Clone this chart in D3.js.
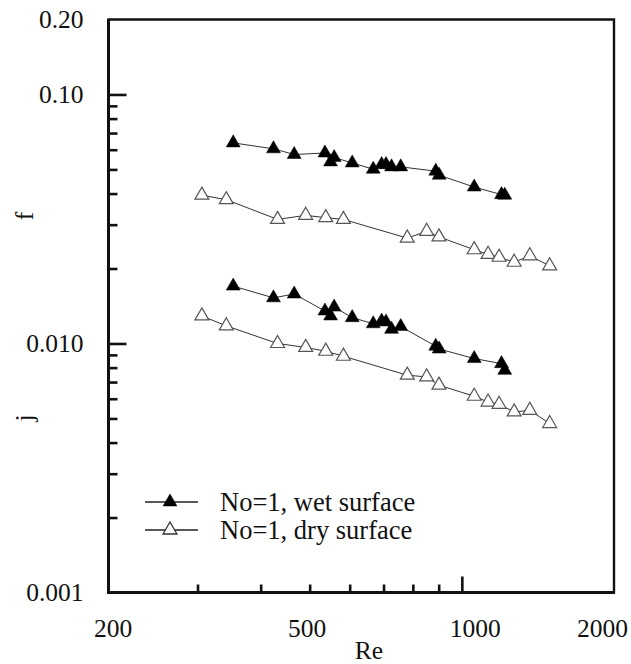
<!DOCTYPE html>
<html>
<head>
<meta charset="utf-8">
<script src="https://cdn.jsdelivr.net/npm/d3@7"></script>
<style>
	html, body { margin: 0; padding: 0; background: #fff; }
	#canvas { width: 631px; height: 664px; }
	svg text { font-family: "Liberation Serif", "DejaVu Serif", serif; }
</style>
</head>
<body>
<div id="canvas"></div>
<script>
// Re values of each run
const wetRe = [353, 424, 466, 536, 550, 559, 607, 668, 694, 708, 726, 757, 888, 902, 1058, 1198, 1216];
const wetF = [0.0639, 0.0605, 0.0574, 0.0582, 0.0536, 0.0558, 0.0531, 0.0501, 0.0523, 0.0523, 0.0512, 0.0512, 0.0492, 0.0474, 0.0425, 0.0396, 0.0394];
const wetJ = [0.0170, 0.01525, 0.0158, 0.0135, 0.0129, 0.0140, 0.0127, 0.0120, 0.0123, 0.0122, 0.0114, 0.0117, 0.00975, 0.0095, 0.0087, 0.0083, 0.0078];

const dryRe = [306, 342, 432, 491, 538, 583, 780, 852, 901, 1058, 1127, 1185, 1269, 1363, 1492];
const dryF = [0.0394, 0.0378, 0.0315, 0.0327, 0.0320, 0.0315, 0.0265, 0.0282, 0.0268, 0.0238, 0.0228, 0.0222, 0.0212, 0.0225, 0.0205];
const dryJ = [0.0129, 0.01177, 0.0100, 0.00964, 0.00931, 0.00889, 0.00746, 0.00734, 0.0068, 0.00614, 0.00582, 0.0057, 0.00531, 0.00539, 0.00477];

const xLabels = [200, 500, 1000, 2000];
const yLabels = [0.001, 0.01, 0.1, 0.2];
const yLabelText = ['0.001', '0.010', '0.10', '0.20'];
const legendNames = ['No=1, wet surface', 'No=1, dry surface'];

const width = 631;
const height = 664;
const margins = { top: 19.5, bottom: 71.5, left: 108.5, right: 17 };

const xScale = d3.scaleLog()
	.domain([200, 2000])
	.range([margins.left, width - margins.right]);

const yScale = d3.scaleLog()
	.domain([0.001, 0.2])
	.range([height - margins.bottom, margins.top]);

const svg = d3.select('#canvas').append('svg')
	.attr('width', width)
	.attr('height', height);

const x0 = margins.left, x1 = width - margins.right;
const y0 = height - margins.bottom, y1 = margins.top;

// ticks, all pointing inward
const yMajor = [0.01, 0.1];
const yMinor = d3.range(2, 10).map(d => d * 0.001).concat(d3.range(2, 10).map(d => d * 0.01));
const xMajor = [1000];
const xMinor = d3.range(3, 10).map(d => d * 100);

function styleTicks(g) {
	g.select('.domain').remove();
	g.selectAll('.tick line').attr('stroke', '#111').attr('stroke-width', 2.6);
	g.selectAll('.tick text').remove();
}

svg.append('g').attr('transform', `translate(${x0},0)`)
	.call(d3.axisLeft(yScale).tickValues(yMajor).tickSize(-18)).call(styleTicks);
svg.append('g').attr('transform', `translate(${x0},0)`)
	.call(d3.axisLeft(yScale).tickValues(yMinor).tickSize(-9)).call(styleTicks);
svg.append('g').attr('transform', `translate(0,${y0})`)
	.call(d3.axisBottom(xScale).tickValues(xMajor).tickSize(-16)).call(styleTicks);
svg.append('g').attr('transform', `translate(0,${y0})`)
	.call(d3.axisBottom(xScale).tickValues(xMinor).tickSize(-8)).call(styleTicks);

// frame
svg.append('path')
	.attr('d', `M${x0},${y1}H${x1}V${y0}`)
	.attr('fill', 'none').attr('stroke', '#111').attr('stroke-width', 2.4);
svg.append('path')
	.attr('d', `M${x0},${y1 - 1}V${y0}H${x1 + 1}`)
	.attr('fill', 'none').attr('stroke', '#111').attr('stroke-width', 3);

// tick labels
const yLab = svg.append('g').attr('transform', `translate(${x0},0)`)
	.call(d3.axisLeft(yScale).tickValues(yLabels).tickSize(0).tickPadding(25)
		.tickFormat((d, i) => yLabelText[i]));
yLab.attr('font-size', 25.5);
yLab.select('.domain').remove();
yLab.selectAll('text').attr('fill', '#111').attr('dy', '0.3em');

const xShift = { 200: 4, 500: -3, 1000: 13, 2000: -12 };
const xLab = svg.append('g').attr('transform', `translate(0,${y0})`)
	.call(d3.axisBottom(xScale).tickValues(xLabels).tickSize(0).tickPadding(26)
		.tickFormat(d3.format('d')));
xLab.attr('font-size', 25.5);
xLab.select('.domain').remove();
xLab.selectAll('text').attr('fill', '#111').attr('dx', d => xShift[d]);

// axis titles
svg.append('text').attr('x', 369).attr('y', 659)
	.attr('text-anchor', 'middle').attr('font-size', 25.5).attr('fill', '#111').text('Re');
svg.append('text').attr('transform', 'translate(33,216) rotate(-90)')
	.attr('text-anchor', 'middle').attr('font-size', 25.5).attr('fill', '#111').text('f');
svg.append('text').attr('transform', 'translate(33,418) rotate(-90)')
	.attr('text-anchor', 'middle').attr('font-size', 25.5).attr('fill', '#111').text('j');

// series
const series = [
	{ re: wetRe, vals: wetF, filled: true },
	{ re: wetRe, vals: wetJ, filled: true },
	{ re: dryRe, vals: dryF, filled: false },
	{ re: dryRe, vals: dryJ, filled: false },
];

const tri = d3.symbol(d3.symbolTriangle, 84);
const line = d3.line().x(d => xScale(d[0])).y(d => yScale(d[1]));

const plot = svg.append('g');
series.forEach(s => {
	const pts = s.re.map((r, i) => [r, s.vals[i]]);
	plot.append('path')
		.attr('d', line(pts))
		.attr('fill', 'none')
		.attr('stroke', '#333')
		.attr('stroke-width', 1);
	plot.selectAll(null).data(pts).join('path')
		.attr('d', tri)
		.attr('transform', d => `translate(${xScale(d[0])},${yScale(d[1])})`)
		.attr('fill', s.filled ? '#000' : '#fff')
		.attr('stroke', s.filled ? '#000' : '#555')
		.attr('stroke-width', s.filled ? 0.5 : 1.2);
});

// legend
const legend = svg.append('g');
legendNames.forEach((name, i) => {
	const y = 502 + i * 28;
	legend.append('line').attr('x1', 145).attr('x2', 198).attr('y1', y).attr('y2', y)
		.attr('stroke', '#222').attr('stroke-width', 1.6);
	legend.append('path').attr('d', tri)
		.attr('transform', `translate(170,${y})`)
		.attr('fill', i === 0 ? '#000' : '#fff')
		.attr('stroke', i === 0 ? '#000' : '#333')
		.attr('stroke-width', i === 0 ? 0.5 : 1.3);
	legend.append('text').attr('x', 220).attr('y', y).attr('dy', '0.33em')
		.attr('font-size', 26.5).attr('fill', '#111').text(name);
});
</script>
</body>
</html>
